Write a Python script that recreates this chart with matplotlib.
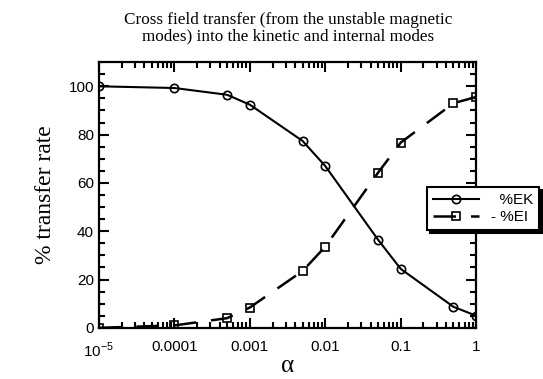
import numpy as np
import matplotlib
matplotlib.use("Agg")
from matplotlib import pyplot as plt
from matplotlib.ticker import LogLocator, FixedLocator, MultipleLocator

alpha = [1e-5, 1e-4, 5e-4, 1e-3, 5e-3, 1e-2, 5e-2, 1e-1, 5e-1, 1.0]
ek = [100, 99.3, 96.5, 92.4, 77.4, 67, 36.5, 24.4, 8.7, 5.0]
ei = [0, 1.0, 4.0, 8.4, 23.5, 33.6, 64.2, 76.7, 93.0, 95.6]
xtick_vals = [1e-5, 1e-4, 1e-3, 1e-2, 1e-1, 1]
xtick_labels = [r'10$^{\mathregular{-5}}$', '0.0001', '0.001', '0.01', '0.1', '1']

plt.rcParams['font.family'] = 'Liberation Sans'
plt.rcParams['mathtext.fontset'] = 'custom'
plt.rcParams['mathtext.rm'] = 'Liberation Sans'

fig = plt.figure(figsize=(5.43, 3.79), dpi=100)
ax = fig.add_axes([0.182, 0.135, 0.695, 0.701])

ax.plot(alpha, ek, 'k-', lw=1.5, marker='o', ms=6, mfc='none', mew=1.2,
        label='  %EK')
ax.plot(alpha, ei, 'k-', lw=1.8, ls=(0, (9, 6)), marker='s', ms=6,
        mfc='none', mew=1.2, label='- %EI')

ax.set_xscale('log')
ax.set_xlim(1e-5, 1)
ax.set_ylim(0, 110)
ax.xaxis.set_major_locator(FixedLocator(xtick_vals))
ax.xaxis.set_minor_locator(LogLocator(base=10, subs=np.arange(2, 10)))
ax.set_xticklabels(xtick_labels)
ax.yaxis.set_major_locator(FixedLocator([0, 20, 40, 60, 80, 100]))
ax.yaxis.set_minor_locator(MultipleLocator(5))
ax.tick_params(which='both', direction='in', top=True, right=True,
               labelsize=11, width=1.5)
ax.tick_params(which='major', length=7)
ax.tick_params(which='minor', length=4)
ax.tick_params(axis='x', pad=9)
for s in ax.spines.values():
    s.set_linewidth(1.6)

ax.set_xlabel('α', fontsize=18, family='Liberation Serif', labelpad=-3)
ax.set_ylabel('% transfer rate', fontsize=17, family='Liberation Serif',
              labelpad=9)
fig.text(0.53, 0.882,
         'Cross field transfer (from the unstable magnetic\n'
         'modes) into the kinetic and internal modes',
         ha='center', va='bottom', fontsize=12.3, family='Liberation Serif',
         linespacing=1.05)

leg = ax.legend(loc='upper left', bbox_to_anchor=(0.786, 0.507),
                bbox_transform=fig.transFigure, frameon=True, fancybox=False,
                shadow={'color': 'black', 'alpha': 1}, edgecolor='black',
                fontsize=11, handlelength=3, borderaxespad=0,
                handletextpad=0.8, labelspacing=0.2)
leg.get_frame().set_linewidth(1.5)

plt.savefig('out.png', dpi=100)
